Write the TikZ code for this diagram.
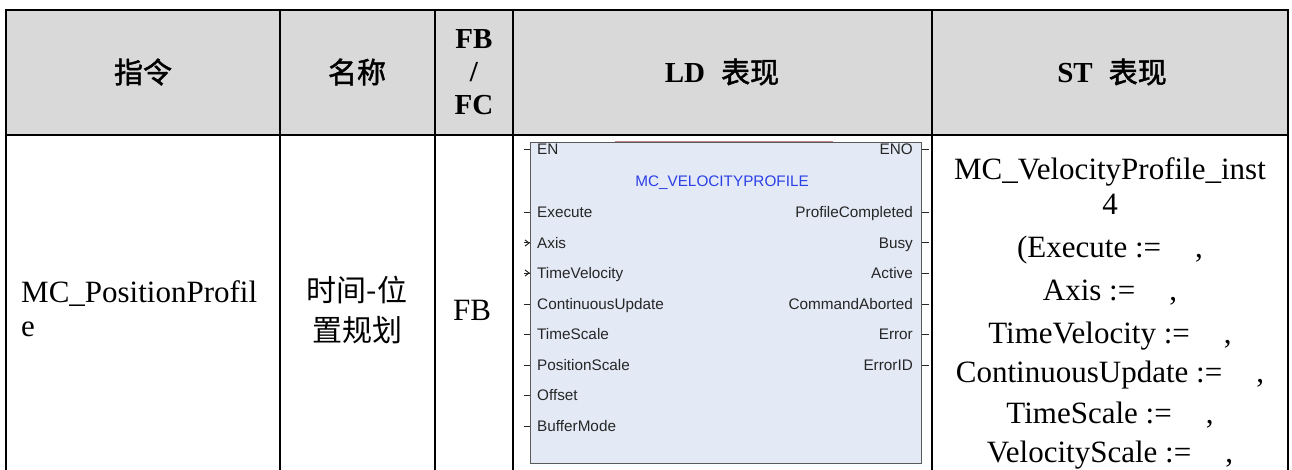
\documentclass[tikz,border=0pt]{standalone}
\usepackage{fontspec}
\setmainfont{Liberation Serif}
\newfontfamily\cjk{Noto Sans CJK SC}
\newfontfamily\cjkb[FakeBold=1.6]{Noto Sans CJK SC}
\newfontfamily\arialf{Liberation Sans}
\definecolor{hdr}{HTML}{D9D9D9}
\definecolor{fbfill}{HTML}{E3EAF6}
\definecolor{fbline}{HTML}{595959}
\definecolor{pincol}{HTML}{262626}
\definecolor{ttl}{HTML}{2B3FE6}
\definecolor{selred}{HTML}{C08A8A}
\begin{document}
\begin{tikzpicture}[x=1pt,y=-1pt,
  gridline/.style={line width=2pt, black},
  hd/.style={font=\fontsize{29}{33}\selectfont\bfseries, align=center, inner sep=0pt},
  bd/.style={font=\fontsize{31}{34}\selectfont, inner sep=0pt},
  stl/.style={font=\fontsize{31}{34}\selectfont, inner sep=0pt, anchor=base},
  pinl/.style={font=\arialf\fontsize{15.3}{18}\selectfont, text=pincol, anchor=base west, inner sep=0pt},
  pinr/.style={font=\arialf\fontsize{15.3}{18}\selectfont, text=pincol, anchor=base east, inner sep=0pt},
  stub/.style={line width=1pt, pincol},
  fbbox/.style={draw=fbline, fill=fbfill, line width=1.2pt, minimum width=391pt, minimum height=321pt, inner sep=0pt, anchor=north west}
]
\useasboundingbox (0,0) rectangle (1292,470);
% table
\fill[hdr] (6,10) rectangle (1288,135);
\draw[gridline] (6,470) -- (6,10) -- (1288,10) -- (1288,470);
\draw[gridline] (6,135) -- (1288,135);
\foreach \x in {280,435,513,932} \draw[gridline] (\x,10) -- (\x,470);
% header
\node[hd] (h1) at (143,72) {\mdseries\cjkb 指令};
\node[hd] (h2) at (357,72) {\mdseries\cjkb 名称};
\node[hd] (h3) at (474,72) {FB\\/\\FC};
\node[hd] (h4) at (722,72) {LD\hspace{0.55em}{\mdseries\cjkb 表现}};
\node[hd] (h5) at (1112,72) {ST\hspace{0.55em}{\mdseries\cjkb 表现}};
% body
\node[bd, align=left, anchor=base west] (b1) at (21,336) {MC\_PositionProfil\\e};
\node[bd, align=center, font=\cjk\fontsize{30}{40}\selectfont] (b2) at (357,310) {时间-位\\置规划};
\node[bd] (b3) at (472,310) {FB};
% LD block
\node[fbbox] (fb) at (530,142) {};
\draw[selred, line width=0.8pt] (615,141) -- (833,141);
\node[font=\arialf\fontsize{15.3}{18}\selectfont, text=ttl, anchor=base, inner sep=0pt] (ttl) at (722,187) {MC\_VELOCITYPROFILE};
\foreach \n/\t/\y in {i1/EN/150, i2/Execute/213, i3/Axis/243, i4/TimeVelocity/273, i5/ContinuousUpdate/304, i6/TimeScale/334, i7/PositionScale/365, i8/Offset/395, i9/BufferMode/426}{
  \node[pinl] (\n) at (537,\y+5) {\t};
  \draw[stub] (fb.west |- 0,\y) -- ++(-6,0);
}
\foreach \y in {243,273}{
  \draw[stub] (525,\y-3) -- (529,\y) -- (525,\y+3);
}
\foreach \n/\t/\y in {o1/ENO/150, o2/ProfileCompleted/213, o3/Busy/243, o4/Active/273, o5/CommandAborted/304, o6/Error/334, o7/ErrorID/365}{
  \node[pinr] (\n) at (913,\y+5) {\t};
  \draw[stub] (fb.east |- 0,\y) -- ++(7,0);
}
% ST column
\node[stl] (s1) at (1110,180) {MC\_VelocityProfile\_inst};
\node[stl] (s2) at (1110,215) {4};
\node[stl] (s3) at (1110,258) {(Execute :=\hspace{1.1em},};
\node[stl] (s4) at (1110,300) {Axis :=\hspace{1.1em},};
\node[stl] (s5) at (1110,343) {TimeVelocity :=\hspace{1.1em},};
\node[stl] (s6) at (1110,382) {ContinuousUpdate :=\hspace{1.1em},};
\node[stl] (s7) at (1110,423) {TimeScale :=\hspace{1.1em},};
\node[stl] (s8) at (1110,462) {VelocityScale :=\hspace{1.1em},};
\end{tikzpicture}
\end{document}
